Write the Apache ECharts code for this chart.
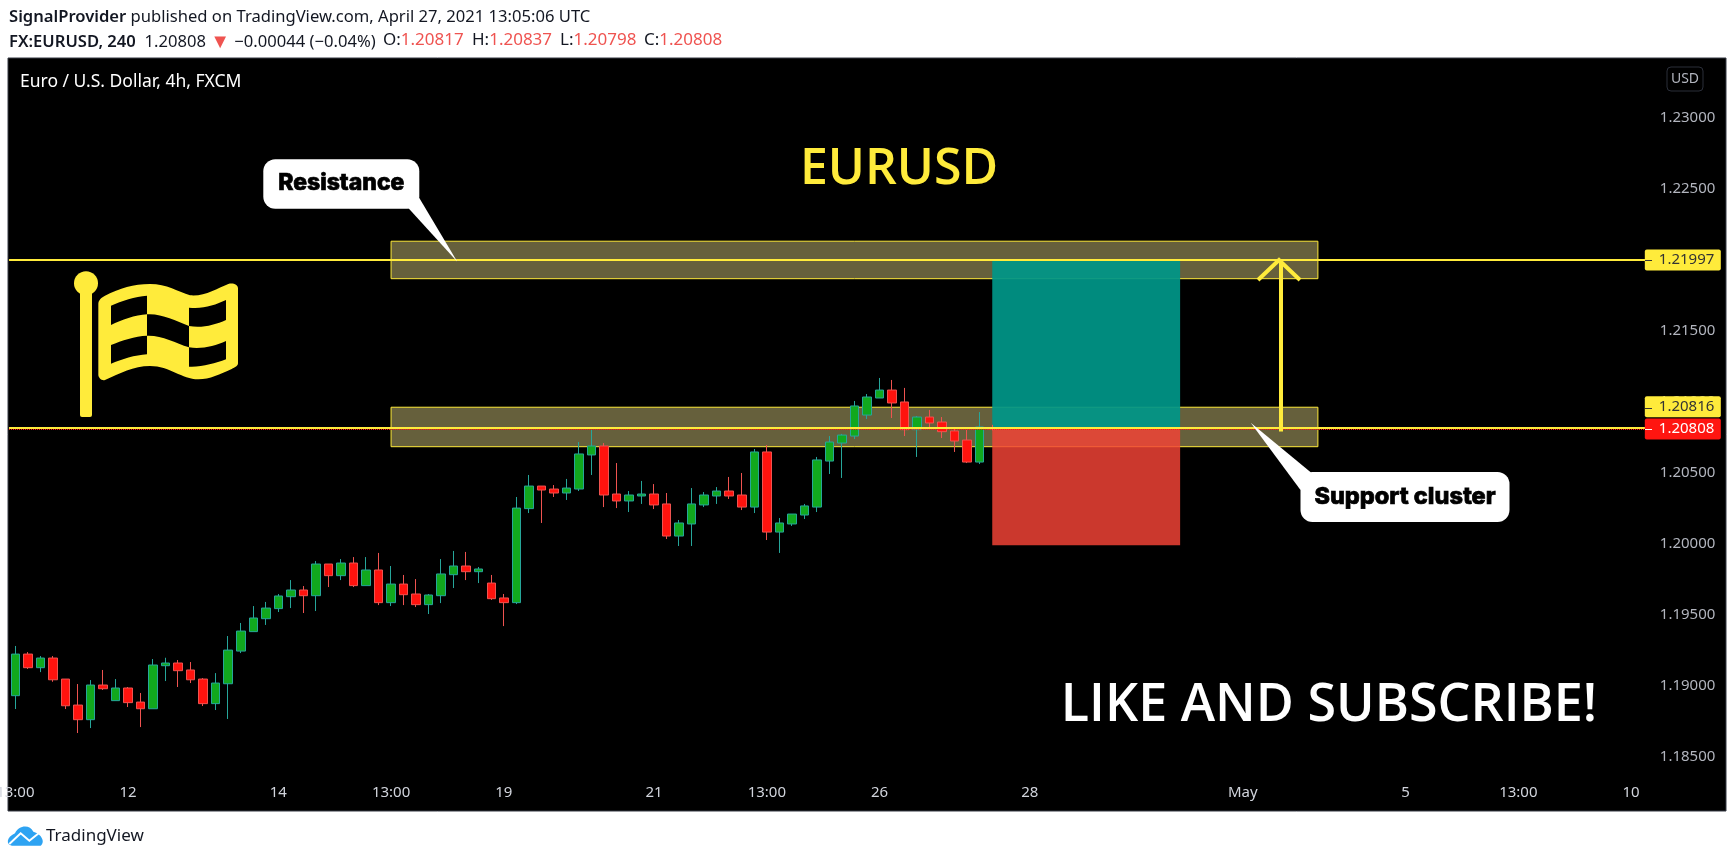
<!DOCTYPE html>
<html><head><meta charset="utf-8">
<style>html,body{margin:0;padding:0;background:#fff}#c{width:1734px;height:860px}</style>
<script src="https://cdn.jsdelivr.net/npm/echarts@6/dist/echarts.min.js"></script>
</head><body><div id="c"></div>
<script>
const opens=[1.18930,1.19223,1.19127,1.19195,1.19047,1.18864,1.18761,1.19005,1.18895,1.18984,1.18885,1.18838,1.19141,1.19160,1.19111,1.19047,1.18874,1.19014,1.19244,1.19381,1.19472,1.19543,1.19627,1.19674,1.19634,1.19857,1.19775,1.19864,1.19705,1.19815,1.19585,1.19716,1.19646,1.19571,1.19634,1.19782,1.19843,1.19803,1.19723,1.19618,1.19585,1.20247,1.20406,1.20385,1.20357,1.20385,1.20625,1.20688,1.20350,1.20301,1.20336,1.20350,1.20280,1.20054,1.20139,1.20273,1.20336,1.20371,1.20343,1.20258,1.20646,1.20082,1.20139,1.20202,1.20258,1.20582,1.20709,1.20758,1.20906,1.21026,1.21082,1.20998,1.20803,1.20892,1.20857,1.20794,1.20730,1.20575,1.20817];
const highs=[1.19280,1.19237,1.19209,1.19209,1.19047,1.19012,1.19040,1.19111,1.19047,1.18991,1.18949,1.19188,1.19197,1.19181,1.19167,1.19054,1.19089,1.19350,1.19442,1.19561,1.19590,1.19646,1.19744,1.19702,1.19878,1.19857,1.19892,1.19906,1.19906,1.19935,1.19843,1.19780,1.19751,1.19646,1.19892,1.19949,1.19942,1.19836,1.19780,1.19646,1.20329,1.20484,1.20406,1.20413,1.20456,1.20716,1.20801,1.20709,1.20568,1.20371,1.20442,1.20420,1.20357,1.20167,1.20392,1.20364,1.20399,1.20470,1.20498,1.20667,1.20695,1.20181,1.20209,1.20280,1.20611,1.20758,1.20773,1.21005,1.21054,1.21167,1.21153,1.21097,1.20899,1.20942,1.20892,1.20815,1.20801,1.20927,1.20837];
const lows=[1.18836,1.19118,1.19096,1.19028,1.18836,1.18667,1.18702,1.18970,1.18895,1.18850,1.18709,1.18838,1.19033,1.18991,1.19019,1.18857,1.18829,1.18766,1.19230,1.19381,1.19428,1.19519,1.19547,1.19512,1.19526,1.19695,1.19744,1.19695,1.19705,1.19568,1.19561,1.19568,1.19554,1.19505,1.19582,1.19688,1.19744,1.19723,1.19604,1.19420,1.19575,1.20216,1.20146,1.20329,1.20308,1.20371,1.20484,1.20258,1.20251,1.20223,1.20280,1.20244,1.20033,1.19984,1.19984,1.20258,1.20280,1.20315,1.20237,1.20216,1.20026,1.19935,1.20125,1.20174,1.20223,1.20491,1.20463,1.20737,1.20878,1.21026,1.20885,1.20758,1.20611,1.20808,1.20744,1.20646,1.20568,1.20561,1.20798];
const closes=[1.19223,1.19127,1.19195,1.19042,1.18859,1.18761,1.19005,1.18979,1.18984,1.18881,1.18838,1.19146,1.19160,1.19106,1.19042,1.18874,1.19019,1.19251,1.19385,1.19477,1.19547,1.19632,1.19674,1.19634,1.19857,1.19775,1.19864,1.19705,1.19815,1.19585,1.19716,1.19641,1.19571,1.19639,1.19787,1.19843,1.19803,1.19822,1.19613,1.19585,1.20251,1.20406,1.20378,1.20357,1.20392,1.20632,1.20688,1.20343,1.20301,1.20343,1.20350,1.20273,1.20054,1.20146,1.20280,1.20343,1.20371,1.20336,1.20258,1.20646,1.20082,1.20146,1.20209,1.20266,1.20590,1.20716,1.20765,1.20970,1.21033,1.21082,1.20991,1.20803,1.20892,1.20850,1.20789,1.20723,1.20575,1.20822,1.20808];
const barSlots=131;
const dateTickIndex=[0,9,21,30,39,51,60,69,81,98,111,120,129];
const dateTickText=['13:00','12','14','13:00','19','21','13:00','26','28','May','5','13:00','10'];
const priceTicks=[1.185,1.19,1.195,1.2,1.205,1.21,1.215,1.22,1.225,1.23];
const resistanceLine=1.21997, supportLine=1.20816, lastPrice=1.20808;
const resistanceZone=[1.21866,1.22130], supportZone=[1.20683,1.20961];
const zoneStart=30, zoneEnd=104;
const posStart=78, posEnd=93, posTarget=1.22005, posEntry=1.20808, posStop=1.1999;
const arrowIndex=101, arrowBase=1.2079;

const cats=new Array(barSlots).fill('');
dateTickIndex.forEach((k,i)=>cats[k]=dateTickText[i]);
const ohlc=opens.map((o,i)=>[o,closes[i],lows[i],highs[i]]);
const YEL='#FFEB3B';
const zoneStyle={color:'rgba(255,240,150,0.4)',borderColor:YEL,borderWidth:1};
const boxLabel=(text,bg,fg,off)=>({show:true,position:'end',distance:-5,formatter:text,backgroundColor:bg,color:fg,
  fontFamily:'Noto Sans',fontSize:15,width:62,height:21,lineHeight:21,align:'left',verticalAlign:'middle',padding:[0,0,0,14],offset:off,borderRadius:2});

const flagOuter='M145,462 C145,450 155,442 165,437 C210,415 250,402 300,402 C350,402 385,425 420,436 C465,440 500,415 535,402 C550,398 564,405 564,415 L564,640 C564,648 555,652 545,657 C510,672 480,688 445,688 C395,688 360,648 300,648 C250,648 210,670 165,690 C155,694 145,682 145,675 Z';
const flagHoles=['M183,467 C215,452 255,440 291,437 L291,493 C255,495 215,510 183,525 Z','M291,493 C335,490 375,512 417,528 L417,592 C375,578 335,555 291,557 Z','M417,473 C460,478 495,465 528,450 L528,510 C495,525 455,535 417,528 Z','M183,585 C215,572 255,558 291,557 L291,613 C255,615 215,628 183,641 Z','M417,592 C455,598 495,588 528,573 L528,628 C495,640 455,652 417,650 Z'];
const cloudPath='M36,377 C18,375 18,352 45,340 C55,315 90,312 100,335 C122,340 138,365 122,377 Z';
const reg=(name,d)=>echarts.graphic.registerShape(name,echarts.graphic.extendPath(d,{}));
reg('flagOuter',flagOuter); flagHoles.forEach((d,i)=>reg('flagHole'+i,d)); reg('tvCloud',cloudPath);
const Z=50;
const tickMark=(y,c)=>({type:'line',z:Z+2,shape:{x1:1645,y1:y,x2:1652,y2:y},style:{stroke:c,lineWidth:1}});
const headRich={b:{fontWeight:600,fontSize:16.6,fontFamily:'Noto Sans',fill:'#131722'},r:{fill:'#EF5350',fontSize:17,fontFamily:'Noto Sans'},t:{fill:'#EF5350',fontSize:20,fontFamily:'Noto Sans'}};
const ohlcText=(x,k,v)=>({type:'text',z:Z,x,y:32,style:{text:k+':{r|'+v+'}',fill:'#131722',font:'17px "Noto Sans"',rich:headRich}});
const graphics=[
 {type:'rect',z:-10,silent:true,shape:{x:8,y:58,width:1718,height:753},style:{fill:'#000',stroke:'#363A45',lineWidth:1}},
 {type:'text',z:Z,x:9,y:9,style:{text:'{b|SignalProvider} published on TradingView.com, April 27, 2021 13:05:06 UTC',fill:'#131722',font:'16.6px "Noto Sans"',rich:headRich}},
 {type:'text',z:Z,x:9,y:32,style:{text:'{b|FX:EURUSD, 240}  1.20808 {t|▼} −0.00044 (−0.04%)',fill:'#131722',font:'16.6px "Noto Sans"',rich:headRich}},
 ohlcText(383,'O','1.20817'),ohlcText(472,'H','1.20837'),ohlcText(560,'L','1.20798'),ohlcText(644,'C','1.20808'),
 {type:'text',z:Z,x:20,y:73,style:{text:'Euro / U.S. Dollar, 4h, FXCM',fill:'#fff',font:'17.5px "Noto Sans"'}},
 {type:'text',z:Z,x:899,y:170,style:{text:'EURUSD',fill:YEL,font:'600 50px "Open Sans"',textAlign:'center',textVerticalAlign:'middle'}},
 {type:'text',z:Z,x:1329,y:706,style:{text:'LIKE AND SUBSCRIBE!',fill:'#fff',font:'600 52px "Open Sans"',textAlign:'center',textVerticalAlign:'middle'}},
 {type:'rect',z:Z,shape:{x:1667,y:67,width:36,height:24,r:4},style:{fill:'none',stroke:'#2A2E39',lineWidth:1}},
 {type:'text',z:Z,x:1685,y:79,style:{text:'USD',fill:'#B2B5BE',font:'14px "Noto Sans"',textAlign:'center',textVerticalAlign:'middle'}},
 {type:'circle',z:Z,shape:{cx:86,cy:283.3,r:12},style:{fill:YEL}},
 {type:'rect',z:Z,shape:{x:80,y:290,width:12,height:127,r:2},style:{fill:YEL}},
 {type:'flagOuter',z:Z,x:50,y:150,scaleX:1/3,scaleY:1/3,style:{fill:YEL}},
 ...flagHoles.map((d,i)=>({type:'flagHole'+i,z:Z+1,x:50,y:150,scaleX:1/3,scaleY:1/3,style:{fill:'#000'}})),
 {type:'polyline',z:Z,shape:{points:[[1258,280],[1279,260],[1300,280]]},style:{stroke:YEL,fill:'none',lineWidth:4}},
 {type:'polygon',z:Z,shape:{points:[[408.3,208],[419.3,198],[457.3,261.7]]},style:{fill:'#fff'}},
 {type:'rect',z:Z,shape:{x:263.3,y:159.3,width:156,height:49.4,r:12},style:{fill:'#fff'}},
 {type:'text',z:Z,x:341.3,y:183,style:{text:'Resistance',fill:'#000',stroke:'#000',lineWidth:0.7,font:'800 23px Inter',textAlign:'center',textVerticalAlign:'middle'}},
 {type:'polygon',z:Z,shape:{points:[[1250.7,422.7],[1311,472.5],[1300.5,490]]},style:{fill:'#fff'}},
 {type:'rect',z:Z,shape:{x:1300.5,y:472,width:209,height:50,r:12},style:{fill:'#fff'}},
 {type:'text',z:Z,x:1405,y:497,style:{text:'Support cluster',fill:'#000',stroke:'#000',lineWidth:0.7,font:'800 23.5px Inter',textAlign:'center',textVerticalAlign:'middle'}},
 {type:'tvCloud',z:Z,x:0,y:720,scaleX:1/3,scaleY:1/3,style:{fill:'#2EA3F2'}},
 {type:'polyline',z:Z+1,x:0,y:720,scaleX:1/3,scaleY:1/3,shape:{points:[[28,372],[62,340],[88,362],[118,338]]},style:{stroke:'#fff',fill:'none',lineWidth:6}},
 {type:'text',z:Z,x:46,y:836.5,style:{text:'TradingView',fill:'#131722',font:'17px "Noto Sans"',textVerticalAlign:'middle'}},
 tickMark(260.5,'#333'),tickMark(408.5,'#333'),tickMark(429.5,'#fff')
];

const chart=echarts.init(document.getElementById('c'),null,{renderer:'canvas',width:1734,height:860});
chart.setOption({
 animation:false,backgroundColor:'#fff',
 grid:{left:9.04,top:58,width:12.525*barSlots,height:753,containLabel:false,outerBoundsMode:'none'},
 xAxis:{type:'category',data:cats,boundaryGap:true,axisLine:{show:false},axisTick:{show:false},splitLine:{show:false},
   axisLabel:{interval:0,color:'#D1D4DC',fontFamily:'Noto Sans',fontSize:15,margin:-26,hideOverlap:false}},
 yAxis:{type:'value',position:'right',min:1.18118,max:1.2342,axisLine:{show:false},axisTick:{show:false},splitLine:{show:false},
   axisLabel:{customValues:priceTicks,formatter:v=>v.toFixed(5),color:'#B2B5BE',fontFamily:'Noto Sans',fontSize:15,margin:10}},
 tooltip:{show:false},
 graphic:{elements:graphics},
 series:[
  {type:'line',name:'zones',z:1,data:[],silent:true,markArea:{silent:true,precision:5,itemStyle:zoneStyle,data:[
    [{xAxis:zoneStart,yAxis:resistanceZone[1]},{xAxis:zoneEnd,yAxis:resistanceZone[0]}],
    [{xAxis:zoneStart,yAxis:supportZone[1]},{xAxis:zoneEnd,yAxis:supportZone[0]}]]}},
  {type:'line',name:'position',z:2,data:[],silent:true,markArea:{silent:true,precision:5,data:[
    [{xAxis:posStart,yAxis:posTarget,itemStyle:{color:'rgba(0,150,136,0.93)'}},{xAxis:posEnd,yAxis:posEntry}],
    [{xAxis:posStart,yAxis:posEntry,itemStyle:{color:'rgba(244,67,54,0.83)'}},{xAxis:posEnd,yAxis:posStop}]]}},
  {type:'candlestick',name:'EURUSD',z:3,data:ohlc,barWidth:9,
   itemStyle:{color:'#11A81E',color0:'#FF130E',borderColor:'#26A69A',borderColor0:'#EF5350',borderWidth:1}},
  {type:'line',name:'levels',z:5,data:[],silent:true,markLine:{silent:true,symbol:'none',precision:5,data:[
    {yAxis:lastPrice,lineStyle:{color:'#FF1510',type:'dotted',width:1},label:boxLabel('1.20808','#FF1510','#fff',[0,0])},
    {yAxis:supportLine,lineStyle:{color:YEL,type:'solid',width:2},label:boxLabel('1.20816',YEL,'#333',[0,-21])},
    {yAxis:resistanceLine,lineStyle:{color:YEL,type:'solid',width:2},label:boxLabel('1.21997',YEL,'#333',[0,0])},
    [{coord:[arrowIndex,arrowBase],lineStyle:{color:YEL,type:'solid',width:4},label:{show:false}},{coord:[arrowIndex,resistanceLine]}]
  ]}}
 ]
});
</script></body></html>
